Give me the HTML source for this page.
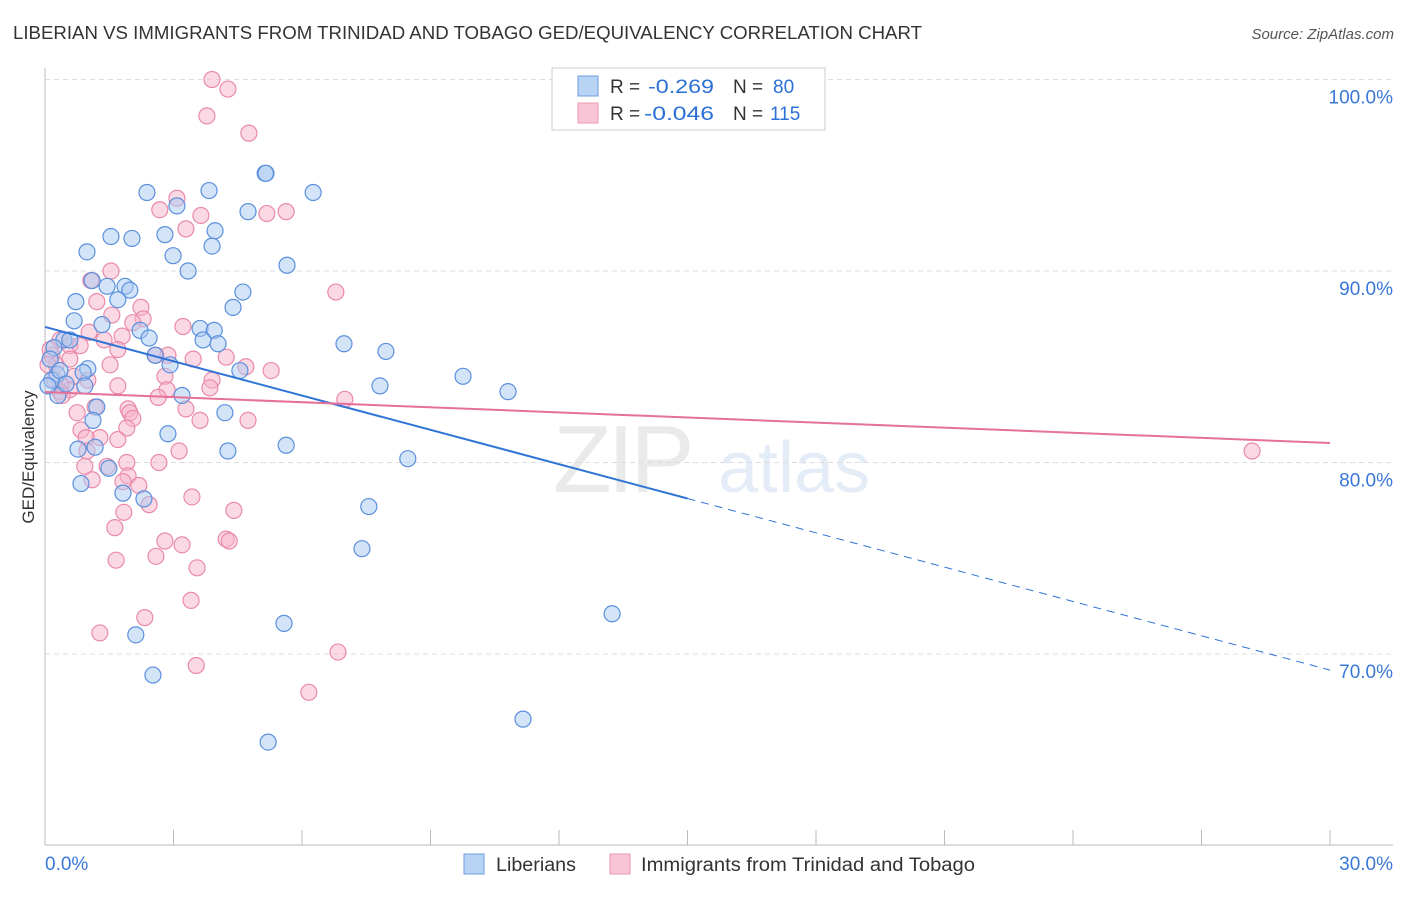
<!DOCTYPE html>
<html><head><meta charset="utf-8"><style>
body{margin:0;background:#fff;font-family:"Liberation Sans",sans-serif;}
svg text{font-family:"Liberation Sans",sans-serif;}
</style></head><body>
<svg id="chart" width="1406" height="892" xmlns="http://www.w3.org/2000/svg">
<text x="13" y="39" font-size="18" fill="#333" textLength="909" lengthAdjust="spacingAndGlyphs">LIBERIAN VS IMMIGRANTS FROM TRINIDAD AND TOBAGO GED/EQUIVALENCY CORRELATION CHART</text>
<text x="1394" y="39" font-size="15" fill="#555" text-anchor="end" font-style="italic">Source: ZipAtlas.com</text>
<text transform="translate(34,457) rotate(-90)" font-size="17" fill="#333" text-anchor="middle">GED/Equivalency</text>
<g opacity="0.3">
<text x="553" y="492" font-size="96" fill="#bbb" font-family="Liberation Serif" letter-spacing="-4">ZIP</text>
<text x="718" y="492" font-size="72" fill="#a8c4e8">atlas</text>
</g>
<g id="grid"></g><g id="pts"></g><g id="lines"></g>
<g>
<rect x="552" y="68" width="273" height="62" fill="#fff" stroke="#ccc"/>
<rect x="578" y="76" width="20" height="20" fill="#b8d4f4" stroke="#6b9ee0"/>
<rect x="578" y="103" width="20" height="20" fill="#f9c5d6" stroke="#ec9ab6"/>
<text x="610" y="93" font-size="19" fill="#333">R =</text>
<text x="648" y="93" font-size="19" fill="#2c6fd6" textLength="66" lengthAdjust="spacingAndGlyphs">-0.269</text>
<text x="733" y="93" font-size="19" fill="#333">N =</text>
<text x="773" y="93" font-size="19" fill="#2c6fd6">80</text>
<text x="610" y="120" font-size="19" fill="#333">R =</text>
<text x="644" y="120" font-size="19" fill="#2c6fd6" textLength="70" lengthAdjust="spacingAndGlyphs">-0.046</text>
<text x="733" y="120" font-size="19" fill="#333">N =</text>
<text x="770" y="120" font-size="19" fill="#2c6fd6">115</text>
</g>
<g>
<rect x="464" y="854" width="20" height="20" fill="#b8d4f4" stroke="#6b9ee0"/>
<text x="496" y="871" font-size="19" fill="#333" textLength="80" lengthAdjust="spacingAndGlyphs">Liberians</text>
<rect x="610" y="854" width="20" height="20" fill="#f9c5d6" stroke="#ec9ab6"/>
<text x="641" y="871" font-size="19" fill="#333" textLength="334" lengthAdjust="spacingAndGlyphs">Immigrants from Trinidad and Tobago</text>
</g>
</svg>
<script>
const blueX=[5.14,5.16,6.26,2.38,3.83,3.08,4.74,1.54,2.03,2.80,3.97,0.98,3.90,2.99,5.65,3.34,1.10,0.72,1.45,1.87,1.98,1.70,4.62,4.39,0.68,1.33,2.22,3.62,3.95,2.43,3.69,4.04,0.44,0.58,0.21,6.98,7.96,2.57,2.92,4.55,1.00,0.89,0.28,9.76,7.82,10.81,0.30,3.20,1.21,4.20,1.12,2.87,0.77,1.17,4.27,5.63,8.47,1.49,0.84,1.82,2.31,7.56,7.40,13.24,2.12,5.58,2.52,11.16,5.21,0.12,0.16,0.07,0.35,0.49,0.93];
const blueY=[95.1,95.1,94.1,94.1,94.2,93.4,93.1,91.8,91.7,91.9,92.1,91.0,91.3,90.8,90.3,90.0,89.5,88.4,89.2,89.2,89.0,88.5,88.9,88.1,87.4,87.2,86.9,87.0,86.9,86.5,86.4,86.2,86.4,86.4,86.0,86.2,85.8,85.6,85.1,84.8,84.9,84.7,84.6,84.5,84.0,83.7,83.5,83.5,82.9,82.6,82.2,81.5,80.7,80.8,80.6,80.9,80.2,79.7,78.9,78.4,78.1,77.7,75.5,72.1,71.0,71.6,68.9,66.6,65.4,85.4,84.3,84.0,84.8,84.1,84.0];
const pinkX=[3.90,4.27,3.78,4.76,3.08,2.68,3.64,5.18,5.63,3.29,1.54,1.07,6.79,1.21,2.24,1.56,2.29,2.05,3.22,1.03,1.38,1.80,0.35,0.58,0.16,1.70,2.59,2.87,3.46,4.23,5.28,4.69,2.80,1.52,0.26,0.68,1.00,3.90,1.70,0.58,3.85,2.85,0.37,0.35,2.64,7.00,1.17,1.94,3.29,0.75,1.98,2.05,3.62,4.74,0.84,1.91,1.28,0.96,1.70,3.13,0.98,1.91,2.66,1.45,0.93,1.94,1.10,1.82,2.19,3.43,2.43,4.41,1.84,1.63,4.23,4.30,2.80,3.20,2.59,1.66,3.55,3.41,2.33,1.28,6.84,3.53,6.16,28.18,0.12,0.07,0.23,0.40,0.58,0.82];
const pinkY=[100.0,99.5,98.1,97.2,93.8,93.2,92.9,93.0,93.1,92.2,90.0,89.5,88.9,88.4,88.1,87.7,87.5,87.3,87.1,86.8,86.4,86.6,86.4,86.1,85.6,85.9,85.6,85.6,85.4,85.5,84.8,85.0,84.5,85.1,85.1,84.5,84.3,84.3,84.0,83.8,83.9,83.8,84.0,83.7,83.4,83.3,82.9,82.8,82.8,82.6,82.6,82.3,82.2,82.2,81.7,81.8,81.3,81.3,81.2,80.6,80.6,80.0,80.0,79.8,79.8,79.3,79.1,79.0,78.8,78.2,77.8,77.5,77.4,76.6,76.0,75.9,75.9,75.7,75.1,74.9,74.5,72.8,71.9,71.1,70.1,69.4,68.0,80.6,85.9,85.1,84.3,83.5,85.4,86.1];
const yTicks=[100,90,80,70];
const yTickLabels=["100.0%","90.0%","80.0%","70.0%"];
const xTickLabels=["0.0%","30.0%"];
const blueTrend=[87.08,69.16];
const pinkTrend=[83.68,81.02];
const blueSolidEnd=15;

const NS="http://www.w3.org/2000/svg";
const X0=45,X1=1330,XMAX=30;
const sx=v=>X0+v/XMAX*(X1-X0);
const sy=v=>79.5+(100-v)*19.15;
function mk(tag,at,parent){const e=document.createElementNS(NS,tag);for(const k in at)e.setAttribute(k,at[k]);parent.appendChild(e);return e;}
const grid=document.getElementById('grid'),pts=document.getElementById('pts'),lines=document.getElementById('lines');
yTicks.forEach((t,i)=>{
 const g=mk('line',{x1:X0,x2:1393,y1:sy(t),y2:sy(t),stroke:'#ddd','stroke-dasharray':'5,4'},grid);
 
 
 const tx=mk('text',{x:1393,y:sy(t)+24,'font-size':19,fill:'#3a78d8','text-anchor':'end'},grid);
 tx.textContent=yTickLabels[i];
 
 
});
const ax=mk('line',{x1:X0,x2:1393,y1:845,y2:845,stroke:'#bbb'},grid);


const ay=mk('line',{x1:X0,x2:X0,y1:68,y2:845,stroke:'#bbb'},grid);


for(let i=0;i<=10;i++){
 const t=mk('line',{x1:sx(i*3),x2:sx(i*3),y1:830,y2:845,stroke:'#bbb'},grid);
 
 
}
[[0,'start',45],[30,'end',1393]].forEach((p,i)=>{
 const tx=mk('text',{x:p[2],y:870,'font-size':19,fill:'#3a78d8','text-anchor':p[1]},grid);
 tx.textContent=xTickLabels[i];
 
 
});
function dots(xs,ys,fill,stroke,name){
 xs.forEach((x,i)=>{
  const c=mk('circle',{cx:sx(x),cy:sy(ys[i]),r:8,fill:fill,'fill-opacity':0.5,stroke:stroke,'stroke-width':1.2},pts);
  
  
 });
}
dots(pinkX,pinkY,'#f7b3c9','#e98aab','trinidad-point');
dots(blueX,blueY,'#a9c9f1','#5b90dd','liberian-point');
const by=x=>blueTrend[0]+(blueTrend[1]-blueTrend[0])*x/XMAX;
const l1=mk('line',{x1:sx(0),y1:sy(by(0)),x2:sx(blueSolidEnd),y2:sy(by(blueSolidEnd)),stroke:'#2f74d6','stroke-width':2},lines);


const l2=mk('line',{x1:sx(blueSolidEnd),y1:sy(by(blueSolidEnd)),x2:sx(30),y2:sy(by(30)),stroke:'#2f74d6','stroke-width':1,'stroke-dasharray':'8,6'},lines);


const l3=mk('line',{x1:sx(0),y1:sy(pinkTrend[0]),x2:sx(30),y2:sy(pinkTrend[1]),stroke:'#e5709a','stroke-width':2},lines);


</script>
</body></html>
